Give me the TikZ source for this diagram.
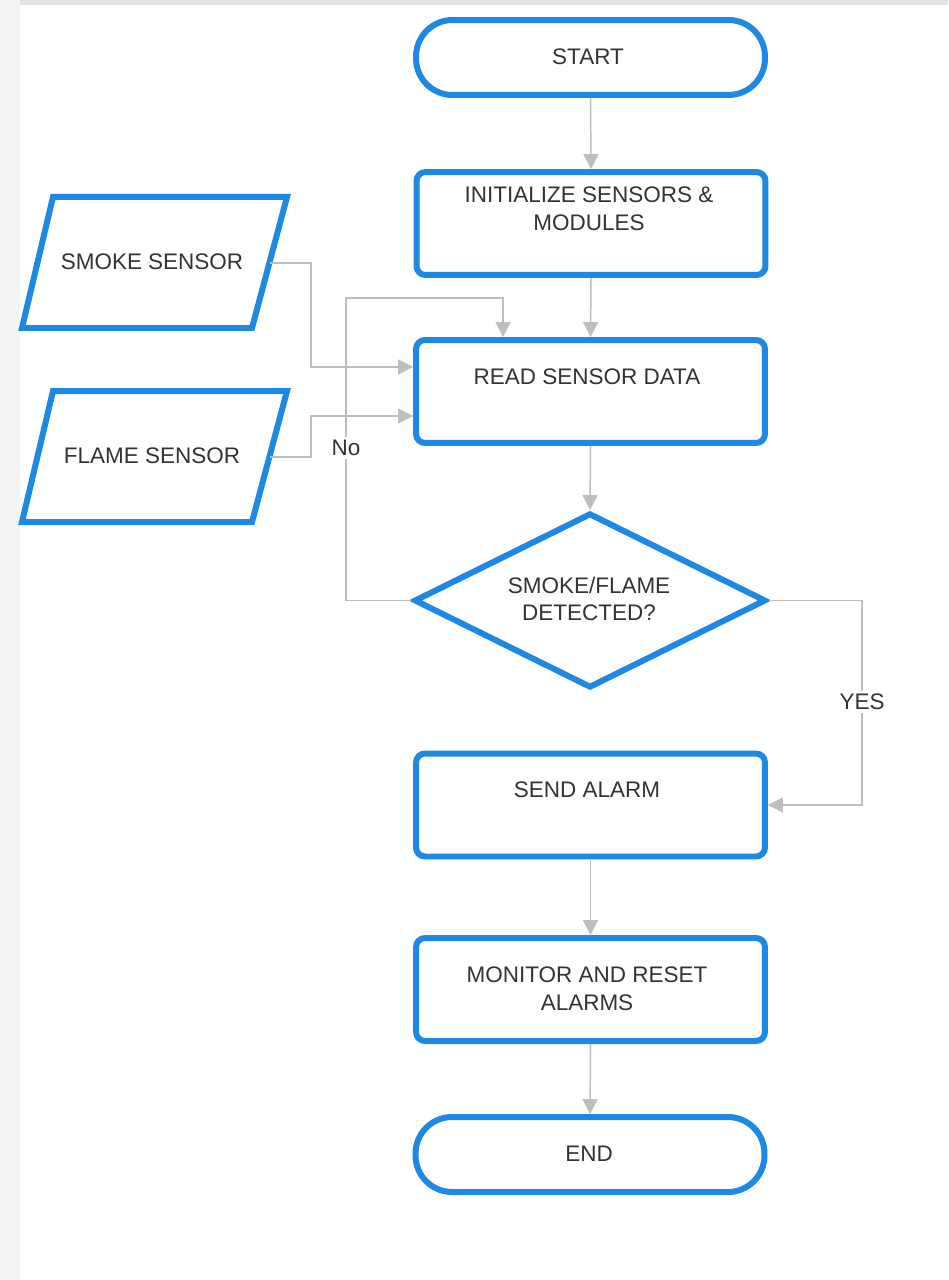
\documentclass[tikz,border=0pt]{standalone}
\usepackage{fontspec}
\setmainfont{Liberation Sans}
\usetikzlibrary{arrows.meta,shapes.geometric,calc}
\definecolor{fcblue}{RGB}{30,136,229}
\definecolor{fcgray}{RGB}{190,190,190}
\definecolor{fctext}{RGB}{51,51,51}
\definecolor{stripA}{RGB}{226,226,226}
\definecolor{stripB}{RGB}{243,244,246}
\begin{document}
\begin{tikzpicture}[x=0.02cm,y=-0.02cm,
  shapeline/.style={draw=fcblue,line width=0.12cm,fill=white,inner sep=0pt},
  termbox/.style={shapeline,rectangle,rounded corners=0.73cm,minimum width=6.98cm,minimum height=1.5cm},
  procbox/.style={shapeline,rectangle,rounded corners=0.18cm,minimum width=6.98cm,minimum height=2.06cm},
  iopath/.style={draw=fcblue,line width=0.12cm,fill=white,line join=miter},
  decbox/.style={shapeline,diamond,minimum width=7.04cm,minimum height=3.5cm},
  txt/.style={text=fctext,font=\fontsize{12.8}{15.8}\selectfont,align=center,inner sep=1pt},
  lbl/.style={txt,fill=white,inner sep=2pt},
  arr/.style={draw=fcgray,line width=0.85pt,-{Triangle[length=0.3cm,width=0.3cm]}}]
\useasboundingbox (0,0) rectangle (948,1280);
\fill[white] (0,0) rectangle (948,1280);
\fill[stripB] (0,0) rectangle (20,1280);
\fill[stripA] (20,0) rectangle (948,5);

% shapes
\node[termbox] (start) at (590.5,57.5) {};
\node[procbox] (init) at (591,223.5) {};
\node[procbox] (read) at (590.5,391.5) {};
\node[decbox] (dec) at (590,600.5) {};
\node[procbox] (send) at (590.5,805) {};
\node[procbox] (mon) at (590.5,989.5) {};
\node[termbox] (end) at (590,1154.5) {};
\draw[iopath] (53,197) -- (287,197) -- (252,328) -- (22,328) -- cycle;
\draw[iopath] (53,391) -- (287,391) -- (252,522) -- (22,522) -- cycle;
\coordinate (smoke) at (270,263);
\coordinate (flame) at (270,457);

% texts
\node[txt] (tstart) at (588,57) {START};
\node[txt] (tinit) at (589,209) {INITIALIZE SENSORS \&\\MODULES};
\node[txt] (tread) at (587,377) {READ SENSOR DATA};
\node[txt] (tdec) at (589,599) {SMOKE/FLAME\\DETECTED?};
\node[txt] (tsend) at (587,790) {SEND ALARM};
\node[txt] (tmon) at (587,989) {MONITOR AND RESET\\ALARMS};
\node[txt] (tend) at (589,1154) {END};
\node[txt] (tsmoke) at (152,262) {SMOKE SENSOR};
\node[txt] (tflame) at (152,456) {FLAME SENSOR};

% helper coordinates
\coordinate (loopL) at (346,298);
\coordinate (loopR) at (503,298);
\coordinate (sx) at (311,0);
\coordinate (yx) at (862,0);
\coordinate (rinS) at ($(read.west)+(0,-24.5)$);
\coordinate (rinF) at ($(read.west)+(0,24.5)$);

% connectors
\draw[arr] (start.south) -- (init.north);
\draw[arr] (init.south) -- (read.north);
\draw[arr] (read.south) -- (dec.north);
\draw[arr] (dec.west) -| (loopL) -- (loopR) -- (loopR |- read.north);
\draw[arr] (smoke) -| (sx |- rinS) -- (rinS);
\draw[arr] (flame) -| (sx |- rinF) -- (rinF);
\draw[arr] (dec.east) -| (yx |- send.east) -- (send.east);
\draw[arr] (send.south) -- (mon.north);
\draw[arr] (mon.south) -- (end.north);

% labels
\node[lbl] (lno) at (346,448) {No};
\node[lbl] (lyes) at (862,702) {YES};
\end{tikzpicture}
\end{document}
